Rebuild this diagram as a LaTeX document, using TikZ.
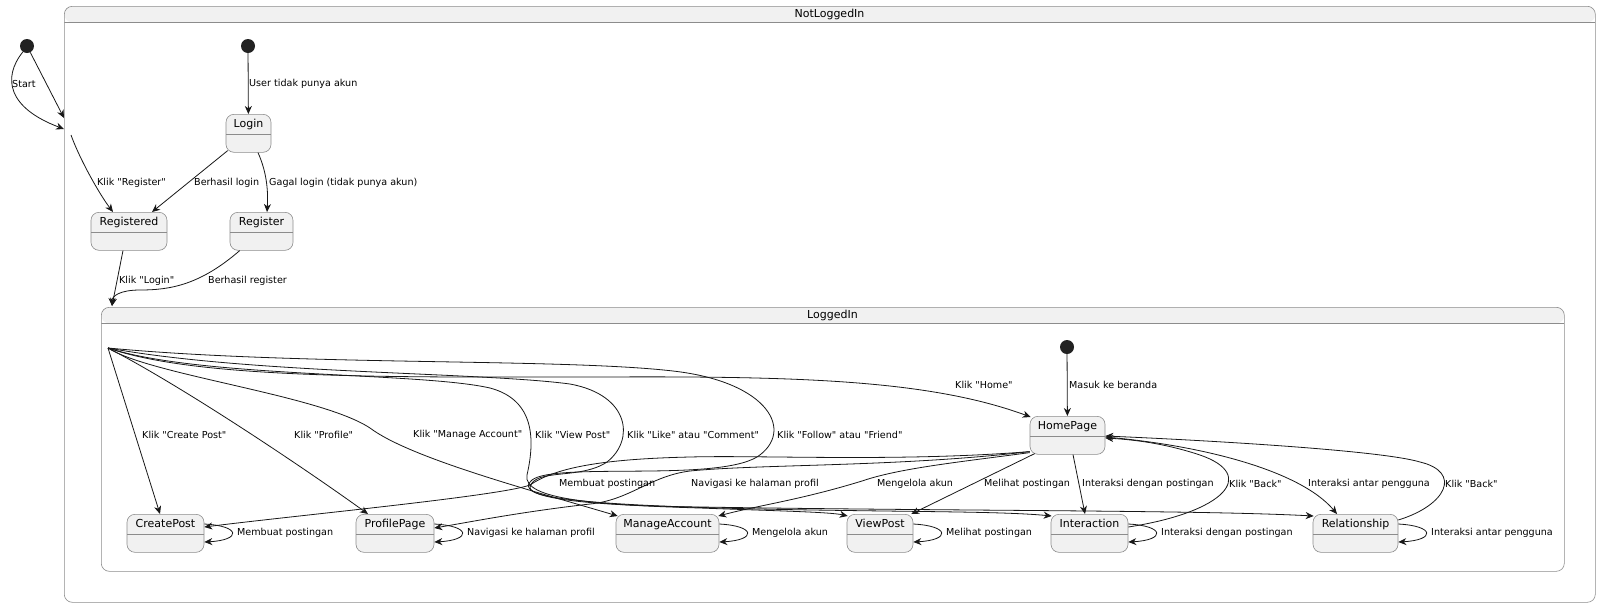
\documentclass[tikz,border=0pt]{standalone}
\usepackage{fontspec}
\setmainfont{DejaVu Sans}[Ligatures=TeXOff]
\usetikzlibrary{arrows.meta}
\definecolor{stfill}{HTML}{F1F1F1}
\definecolor{stline}{HTML}{8C8C8C}
\definecolor{edgecol}{HTML}{181818}
\definecolor{dotcol}{HTML}{222222}

% straight double quote
\newcommand\dq{\char34\relax}

\tikzset{
  stbox/.style={draw=stline, line width=0.6pt, fill=stfill, rounded corners=8pt,
    anchor=north, inner xsep=0pt, inner ysep=0pt, minimum height=38pt,
    text height=13pt, text depth=25pt, font=\fontsize{11}{13}\selectfont,
    path picture={\draw[stline, line width=0.6pt]
      ([yshift=-20pt]path picture bounding box.north west) --
      ([yshift=-20pt]path picture bounding box.north east);}},
  cframe/.style={draw=stline, line width=0.6pt, rounded corners=8pt, inner sep=0pt,
    anchor=north west,
    path picture={\fill[stfill] (path picture bounding box.north west) rectangle
      ([yshift=-16pt]path picture bounding box.north east);
      \draw[stline, line width=0.6pt]
      ([yshift=-16pt]path picture bounding box.north west) --
      ([yshift=-16pt]path picture bounding box.north east);}},
  ctitle/.style={inner sep=0pt, font=\fontsize{11}{13}\selectfont},
  initdot/.style={circle, fill=dotcol, minimum size=14pt, inner sep=0pt},
  arr/.style={draw=edgecol, line width=0.8pt,
    -{Stealth[length=8pt, width=7pt, inset=2.5pt]}},
  lbl/.style={anchor=west, inner sep=0pt, font=\fontsize{9.6}{11}\selectfont},
}
% self transition on the right side of a state
\newcommand\stloop[1]{\draw[arr] ([yshift=-10pt]#1.north east) .. controls +(37,2) and +(37,-2) .. ([yshift=-28pt]#1.north east);}

\begin{document}
\begin{tikzpicture}[x=1pt, y=-1pt]
\useasboundingbox (0,0) rectangle (1600,606);
\fill[white] (0,0) rectangle (1600,606);

% composite states
\node[cframe, minimum width=1531pt, minimum height=596pt] (nl) at (64,6) {};
\node[ctitle] (nlt) at (829.5,14) {NotLoggedIn};
\node[cframe, minimum width=1463pt, minimum height=264pt] (li) at (101,307) {};
\node[ctitle] (lit) at (832.5,315) {LoggedIn};

% initial pseudo states
\node[initdot] (i0) at (27,46) {};
\node[initdot] (i1) at (248,46) {};
\node[initdot] (i2) at (1067,347) {};

% simple states
\node[stbox, minimum width=45pt] (login) at (248.5,114) {Login};
\node[stbox, minimum width=76pt] (reg) at (129,212) {Registered};
\node[stbox, minimum width=63pt] (regi) at (261.5,212) {Register};
\node[stbox, minimum width=75pt] (hp) at (1067.5,416) {HomePage};
\node[stbox, minimum width=77pt] (cp) at (165.5,514) {CreatePost};
\node[stbox, minimum width=78pt] (pp) at (395,514) {ProfilePage};
\node[stbox, minimum width=103pt] (ma) at (667.5,514) {ManageAccount};
\node[stbox, minimum width=66pt] (vp) at (880,514) {ViewPost};
\node[stbox, minimum width=77pt] (ia) at (1089.5,514) {Interaction};
\node[stbox, minimum width=85pt] (rs) at (1355.5,514) {Relationship};

% border points of the composites
\coordinate (nlA) at (64,118);
\coordinate (nlB) at (64,129);
\coordinate (nlC) at (71,135);
\coordinate (liA) at (112,306);
\coordinate (E) at (108,348);

% transitions outside LoggedIn
\draw[arr] (i0) -- (nlA);
\draw[arr] (i0.235) .. controls (2,78) and (8,108) .. (nlB);
\draw[arr] (nlC) .. controls (80,160) and (100,195) .. ([xshift=-16pt]reg.north);
\draw[arr] (i1) -- (login);
\draw[arr] ([xshift=2pt,yshift=2pt]login.south west) -- ([xshift=23pt]reg.north);
\draw[arr] ([xshift=9.5pt]login.south) .. controls (268,175) and (268,195) .. ([xshift=5.5pt]regi.north);
\draw[arr] ([xshift=-6pt]reg.south) -- (liA);
\draw[arr] ([xshift=10pt]regi.south west) .. controls (200,285) and (170,290) .. (140,290)
  .. controls (120,290) and (112,296) .. (liA);

% transitions from the LoggedIn border
\draw[arr] (E) -- ([xshift=-5.5pt]cp.north);
\draw[arr] (E) .. controls (180,385) and (300,465) .. ([xshift=-27pt]pp.north);
\draw[arr] (E) .. controls (150,375) and (320,395) .. (370,428)
  .. controls (410,458) and (530,490) .. ([xshift=2pt,yshift=-2pt]ma.north west);
\draw[arr] (E) .. controls (200,378) and (420,372) .. (490,388)
  .. controls (535,400) and (535,440) .. (527,475)
  .. controls (522,500) and (600,505) .. (700,508)
  .. controls (780,511) and (830,512) .. ([xshift=1pt,yshift=-2pt]vp.north west);
\draw[arr] (E) .. controls (250,374) and (480,372) .. (570,384)
  .. controls (630,395) and (635,440) .. (607,462)
  .. controls (580,480) and (535,468) .. (530,487)
  .. controls (527,500) and (620,506) .. (760,509)
  .. controls (900,512) and (1000,511) .. ([xshift=1pt,yshift=-2pt]ia.north west);
\draw[arr] (E) .. controls (300,366) and (560,358) .. (673,371)
  .. controls (770,382) and (795,432) .. (757,457)
  .. controls (715,482) and (555,462) .. (532,480)
  .. controls (518,492) and (540,505) .. (700,507)
  .. controls (950,511) and (1200,510) .. ([xshift=1pt,yshift=-2pt]rs.north west);
\draw[arr] (E) .. controls (200,380) and (400,377) .. (600,377)
  .. controls (800,376) and (930,380) .. ([xshift=1pt,yshift=-1pt]hp.north west);

% transitions of HomePage
\draw[arr] (i2) -- (hp);
\draw[arr] ([yshift=3pt]hp.south west) .. controls (900,462) and (760,455) .. (690,457)
  .. controls (600,459) and (555,468) .. (530,485)
  .. controls (500,496) and (300,515) .. ([yshift=-13pt]cp.north east);
\draw[arr] ([yshift=3pt]hp.south west) .. controls (900,467) and (760,464) .. (690,471)
  .. controls (650,476) and (630,500) .. (590,504)
  .. controls (520,512) and (470,522) .. ([yshift=-14pt]pp.north east);
\draw[arr] ([yshift=2pt]hp.south west) .. controls (960,462) and (900,468) .. (862,481)
  .. controls (800,500) and (760,505) .. ([xshift=-1pt,yshift=-2pt]ma.north east);
\draw[arr] ([xshift=5pt,yshift=1pt]hp.south west) -- ([xshift=-2pt]vp.north east);
\draw[arr] ([xshift=5.5pt]hp.south) -- ([xshift=-4.5pt]ia.north);
\draw[arr] ([yshift=-13pt]ia.north east) .. controls (1225,512) and (1258,475) .. (1200,455)
  .. controls (1170,445) and (1140,440) .. ([yshift=-22pt]hp.north east);
\draw[arr] ([yshift=-21pt]hp.north east) .. controls (1200,445) and (1300,470) .. ([xshift=-18.5pt]rs.north);
\draw[arr] ([yshift=-6pt]rs.north east) .. controls (1447,505) and (1462,472) .. (1420,462)
  .. controls (1380,450) and (1200,440) .. ([yshift=-20pt]hp.north east);

% self transitions
\stloop{cp}
\stloop{pp}
\stloop{ma}
\stloop{vp}
\stloop{ia}
\stloop{rs}

% transition labels
\node[lbl] (t01) at (12,84) {Start};
\node[lbl] (t02) at (249,84) {User tidak punya akun};
\node[lbl] (t03) at (97,183) {Klik \dq Register\dq};
\node[lbl] (t04) at (194,183) {Berhasil login};
\node[lbl] (t05) at (269,183) {Gagal login (tidak punya akun)};
\node[lbl] (t06) at (119,281) {Klik \dq Login\dq};
\node[lbl] (t07) at (208,281) {Berhasil register};

\node[lbl] (t10) at (1069,385) {Masuk ke beranda};
\node[lbl] (t11) at (955,385) {Klik \dq Home\dq};
\node[lbl] (t12) at (142,435) {Klik \dq Create Post\dq};
\node[lbl] (t13) at (294,435) {Klik \dq Profile\dq};
\node[lbl] (t14) at (413,435) {Klik \dq Manage Account\dq};
\node[lbl] (t15) at (535,435) {Klik \dq View Post\dq};
\node[lbl] (t16) at (627,435) {Klik \dq Like\dq{} atau \dq Comment\dq};
\node[lbl] (t17) at (777,435) {Klik \dq Follow\dq{} atau \dq Friend\dq};

\node[lbl] (t20) at (559,484) {Membuat postingan};
\node[lbl] (t21) at (691,484) {Navigasi ke halaman profil};
\node[lbl] (t22) at (877,484) {Mengelola akun};
\node[lbl] (t23) at (984,484) {Melihat postingan};
\node[lbl] (t24) at (1082,484) {Interaksi dengan postingan};
\node[lbl] (t25) at (1229,484) {Klik \dq Back\dq};
\node[lbl] (t26) at (1308,484) {Interaksi antar pengguna};
\node[lbl] (t27) at (1445,484) {Klik \dq Back\dq};

\node[lbl] (t30) at (237,533) {Membuat postingan};
\node[lbl] (t31) at (467,533) {Navigasi ke halaman profil};
\node[lbl] (t32) at (752,533) {Mengelola akun};
\node[lbl] (t33) at (946,533) {Melihat postingan};
\node[lbl] (t34) at (1161,533) {Interaksi dengan postingan};
\node[lbl] (t35) at (1431,533) {Interaksi antar pengguna};
\end{tikzpicture}
\end{document}
